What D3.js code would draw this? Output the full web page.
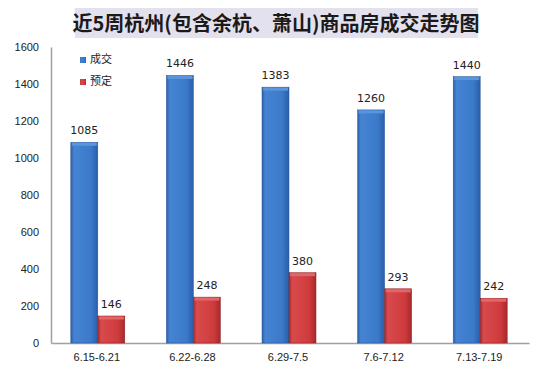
<!DOCTYPE html>
<html>
<head>
<meta charset="utf-8">
<script src="https://cdn.jsdelivr.net/npm/d3@7"></script>
<style>
  body { margin: 0; background: #fff; }
  svg { font-family: "DejaVu Sans", "Noto Sans CJK SC", sans-serif; }
</style>
</head>
<body>
<script>
var categories = ["6.15-6.21", "6.22-6.28", "6.29-7.5", "7.6-7.12", "7.13-7.19"];
var dealValues = [1085, 1446, 1383, 1260, 1440];
var bookValues = [146, 248, 380, 293, 242];
var seriesNames = ["成交", "预定"];
var yTicks = [0, 200, 400, 600, 800, 1000, 1200, 1400, 1600];

var width = 555, height = 370;
var margin = {top: 47, right: 26, bottom: 27, left: 51};

var svg = d3.select("body").append("svg")
    .attr("width", width)
    .attr("height", height);

var defs = svg.append("defs");

function barGradient(id, edge, mid, light) {
    var g = defs.append("linearGradient")
        .attr("id", id)
        .attr("x1", "0").attr("x2", "1").attr("y1", "0").attr("y2", "0");
    g.append("stop").attr("offset", "0%").attr("stop-color", edge);
    g.append("stop").attr("offset", "12%").attr("stop-color", light);
    g.append("stop").attr("offset", "75%").attr("stop-color", mid);
    g.append("stop").attr("offset", "100%").attr("stop-color", edge);
}
barGradient("gradBlue", "#2a5ea8", "#3b79c9", "#4584d3");
barGradient("gradRed", "#a52a2c", "#cf3b3d", "#d84a4c");

// title
svg.append("rect")
    .attr("x", 75).attr("y", 8)
    .attr("width", 403).attr("height", 30)
    .attr("fill", "#e4e1ee");

svg.append("text")
    .attr("x", 276).attr("y", 31)
    .attr("text-anchor", "middle")
    .style("font-family", "Noto Sans CJK SC")
    .style("font-size", "20px")
    .style("font-weight", "bold")
    .style("fill", "#1a1a1a")
    .text("近5周杭州(包含余杭、萧山)商品房成交走势图");

var x = d3.scaleBand()
    .domain(categories)
    .range([margin.left, width - margin.right]);

var y = d3.scaleLinear()
    .domain([0, 1600])
    .range([height - margin.bottom, margin.top]);

var barW = 27;

// y axis
var yAxis = svg.append("g")
    .attr("transform", "translate(" + margin.left + ",0)")
    .call(d3.axisLeft(y).tickValues(yTicks).tickFormat(d3.format("d")).tickSize(0).tickPadding(12));
yAxis.select(".domain").attr("stroke", "#a0a0a0").attr("stroke-width", 1.5);
yAxis.selectAll("text").style("font-size", "11px").style("fill", "#222");

// x axis
var xAxis = svg.append("g")
    .attr("transform", "translate(0," + y(0) + ")")
    .call(d3.axisBottom(x).tickSize(0).tickPadding(10));
xAxis.select(".domain").attr("stroke", "#a0a0a0").attr("stroke-width", 1.5);
xAxis.selectAll("text").style("font-size", "11px").style("fill", "#222")
    .attr("dx", -2);

function center(c) { return x(c) + x.bandwidth() / 2 - 1; }

var groups = svg.append("g").selectAll("g")
    .data(categories)
    .join("g");

// deal bars
groups.append("rect")
    .attr("x", function(d) { return center(d) - barW; })
    .attr("y", function(d, i) { return y(dealValues[i]); })
    .attr("width", barW)
    .attr("height", function(d, i) { return y(0) - y(dealValues[i]); })
    .attr("fill", "url(#gradBlue)")
    .attr("stroke", "#2a5597").attr("stroke-width", 0.5);

groups.append("rect")
    .attr("x", function(d) { return center(d) - barW + 1; })
    .attr("y", function(d, i) { return y(dealValues[i]) + 0.5; })
    .attr("width", barW - 2)
    .attr("height", 3)
    .attr("fill", "#5b95dc");

// booking bars
groups.append("rect")
    .attr("x", function(d) { return center(d); })
    .attr("y", function(d, i) { return y(bookValues[i]); })
    .attr("width", barW)
    .attr("height", function(d, i) { return y(0) - y(bookValues[i]); })
    .attr("fill", "url(#gradRed)")
    .attr("stroke", "#8a2224").attr("stroke-width", 0.5);

groups.append("rect")
    .attr("x", function(d) { return center(d) + 1; })
    .attr("y", function(d, i) { return y(bookValues[i]) + 0.5; })
    .attr("width", barW - 2)
    .attr("height", 3)
    .attr("fill", "#e26667");

// value labels
groups.append("text")
    .attr("x", function(d) { return center(d) - barW / 2; })
    .attr("y", function(d, i) { return y(dealValues[i]) - 8; })
    .attr("text-anchor", "middle")
    .style("font-size", "11px").style("fill", "#222")
    .text(function(d, i) { return dealValues[i]; });

groups.append("text")
    .attr("x", function(d) { return center(d) + barW / 2; })
    .attr("y", function(d, i) { return y(bookValues[i]) - 8; })
    .attr("text-anchor", "middle")
    .style("font-size", "11px").style("fill", "#222")
    .text(function(d, i) { return bookValues[i]; });

// legend
var legendColors = ["url(#gradBlue)", "url(#gradRed)"];
var legend = svg.append("g").selectAll("g")
    .data(seriesNames)
    .join("g")
    .attr("transform", function(d, i) { return "translate(80," + (57 + i * 22) + ")"; });

legend.append("rect")
    .attr("width", 6).attr("height", 6)
    .attr("fill", function(d, i) { return legendColors[i]; });

legend.append("text")
    .attr("x", 10).attr("y", 6)
    .style("font-family", "Noto Sans CJK SC")
    .style("font-size", "11px").style("fill", "#222")
    .text(function(d) { return d; });
</script>
</body>
</html>
